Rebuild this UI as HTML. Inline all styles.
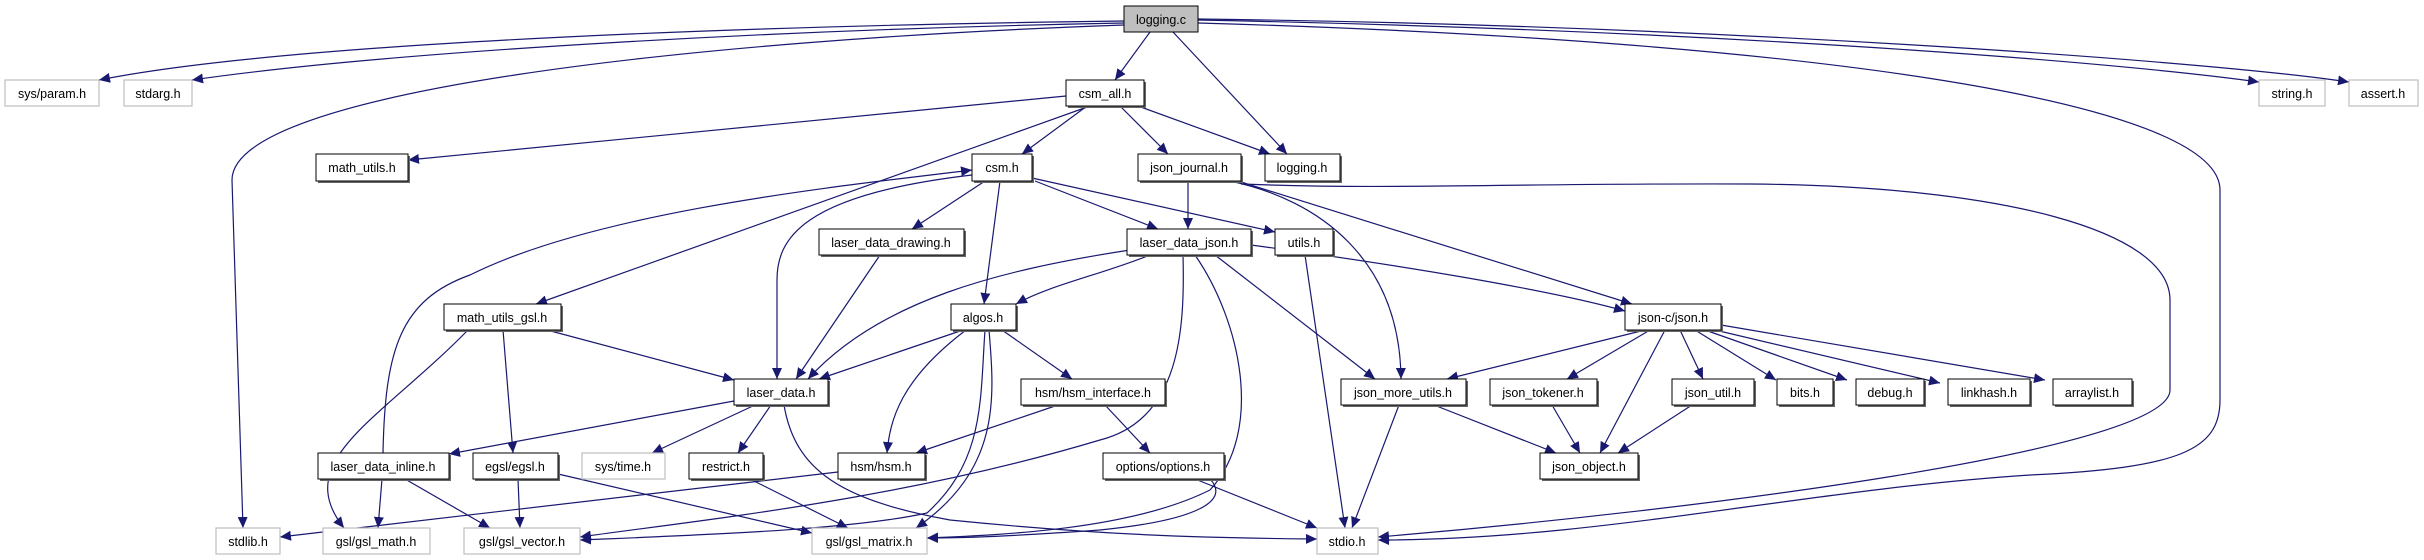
<!DOCTYPE html>
<html><head><meta charset="utf-8"><style>
html,body{margin:0;padding:0;background:#fff;}
svg{display:block;}
text{font-family:"Liberation Sans",sans-serif;font-size:12.5px;fill:#000;}
.e{fill:none;stroke:#191970;stroke-width:1.2;marker-end:url(#a);}
.n{fill:#fff;stroke:#000;stroke-width:1;}
.s{fill:#666;}
.g{fill:#fff;stroke:#bfbfbf;stroke-width:1.2;}
</style></head><body>
<svg width="2424" height="560" viewBox="0 0 2424 560" xmlns="http://www.w3.org/2000/svg">
<defs><marker id="a" markerUnits="userSpaceOnUse" markerWidth="12" markerHeight="10" refX="11" refY="5" orient="auto"><path d="M0,0 L11,5 L0,10 z" fill="#191970"/></marker></defs>

<!-- edges -->
<path class="e" d="M1124,21 C800,25 300,40 99,80"/>
<path class="e" d="M1124,23 C800,29 400,50 192,80"/>
<path class="e" d="M1124,25 C700,40 232,90 232,180 L243,528"/>
<path class="e" d="M1150,32 L1115,80"/>
<path class="e" d="M1173,32 L1287,154"/>
<path class="e" d="M1198,20 C1700,30 2100,60 2259,82"/>
<path class="e" d="M1198,19 C1700,25 2200,60 2349,82"/>
<path class="e" d="M1198,23 C1800,40 2220,100 2220,190 L2220,400 C2220,450 2180,468 2030,475 C1800,490 1600,540 1378,540"/>

<path class="e" d="M1066,96 L408,160"/>
<path class="e" d="M1090,106 L536,304"/>
<path class="e" d="M1087,106 L1022,154"/>
<path class="e" d="M1120,106 L1168,154"/>
<path class="e" d="M1138,106 L1270,154"/>

<path class="e" d="M985,181 L912,229"/>
<path class="e" d="M1035,181 L1158,229"/>
<path class="e" d="M1032,178 L1275,232"/>
<path class="e" d="M1000,181 L984,304"/>
<path class="e" d="M972,175 C800,195 777,240 777,280 L777,379"/>
<path class="e" d="M383,453 C385,350 400,300 470,275 C600,210 850,185 972,170"/>

<path class="e" d="M1188,181 L1188,229"/>
<path class="e" d="M1230,181 C1320,200 1400,260 1401,379"/>
<path class="e" d="M1241,182 L1632,304"/>
<path class="e" d="M1241,184 C1400,190 1500,183 1750,184 C2000,186 2170,230 2170,300 L2170,390 C2170,450 1700,510 1378,537"/>

<path class="e" d="M880,255 L796,379"/>

<path class="e" d="M1150,255 C1100,275 1050,285 1016,304"/>
<path class="e" d="M1130,250 C1000,270 880,300 808,379"/>
<path class="e" d="M1251,245 C1400,265 1550,290 1625,311"/>
<path class="e" d="M1215,255 L1375,379"/>
<path class="e" d="M1183,255 C1185,330 1180,420 1100,440 C900,500 700,520 580,537"/>
<path class="e" d="M1195,255 C1240,320 1265,430 1210,490 C1130,530 1000,535 927,538"/>
<path class="e" d="M1305,255 L1345,528"/>

<path class="e" d="M547,330 L734,380"/>
<path class="e" d="M503,330 L513,453"/>
<path class="e" d="M468,330 C380,420 290,460 344,528"/>

<path class="e" d="M963,330 L819,379"/>
<path class="e" d="M1002,330 L1072,379"/>
<path class="e" d="M966,330 C900,380 890,420 887,453"/>
<path class="e" d="M985,330 C980,400 985,460 927,513 C850,530 700,535 580,540"/>
<path class="e" d="M989,330 C995,400 1000,470 916,528"/>

<path class="e" d="M734,401 L449,454"/>
<path class="e" d="M755,405 L652,453"/>
<path class="e" d="M771,405 L738,453"/>
<path class="e" d="M784,405 C795,470 840,500 950,520 C1100,535 1200,538 1317,539"/>

<path class="e" d="M1058,405 L916,453"/>
<path class="e" d="M1105,405 L1150,453"/>

<path class="e" d="M382,479 L378,528"/>
<path class="e" d="M405,479 L490,528"/>
<path class="e" d="M518,479 L520,528"/>
<path class="e" d="M558,474 L812,533"/>
<path class="e" d="M750,479 L848,528"/>
<path class="e" d="M838,472 L280,537"/>
<path class="e" d="M1195,479 L1317,528"/>
<path class="e" d="M1210,479 C1230,500 1200,520 1100,530 C1000,537 960,538 927,538"/>

<path class="e" d="M1645,330 L1447,379"/>
<path class="e" d="M1650,330 L1567,379"/>
<path class="e" d="M1665,330 L1600,453"/>
<path class="e" d="M1680,330 L1703,379"/>
<path class="e" d="M1695,330 L1776,380"/>
<path class="e" d="M1705,330 L1847,380"/>
<path class="e" d="M1715,330 L1940,383"/>
<path class="e" d="M1721,325 L2045,380"/>
<path class="e" d="M1434,405 L1556,453"/>
<path class="e" d="M1399,405 L1352,528"/>
<path class="e" d="M1552,405 L1580,453"/>
<path class="e" d="M1692,405 L1618,453"/>

<!-- nodes: logging.c -->
<rect x="1124" y="6" width="74" height="26" fill="#bfbfbf" stroke="#000"/>
<text x="1161" y="24" text-anchor="middle">logging.c</text>

<!-- gray nodes -->
<g>
<rect class="g" x="5" y="80" width="94" height="26"/><text x="52" y="98" text-anchor="middle">sys/param.h</text>
<rect class="g" x="124" y="80" width="68" height="26"/><text x="158" y="98" text-anchor="middle">stdarg.h</text>
<rect class="g" x="2259" y="80" width="66" height="26"/><text x="2292" y="98" text-anchor="middle">string.h</text>
<rect class="g" x="2349" y="80" width="69" height="26"/><text x="2383" y="98" text-anchor="middle">assert.h</text>
<rect class="g" x="582" y="453" width="83" height="26"/><text x="623" y="471" text-anchor="middle">sys/time.h</text>
<rect class="g" x="216" y="528" width="64" height="26"/><text x="248" y="546" text-anchor="middle">stdlib.h</text>
<rect class="g" x="323" y="528" width="107" height="26"/><text x="376" y="546" text-anchor="middle">gsl/gsl_math.h</text>
<rect class="g" x="464" y="528" width="116" height="26"/><text x="522" y="546" text-anchor="middle">gsl/gsl_vector.h</text>
<rect class="g" x="812" y="528" width="115" height="26"/><text x="869" y="546" text-anchor="middle">gsl/gsl_matrix.h</text>
<rect class="g" x="1317" y="528" width="61" height="26"/><text x="1347" y="546" text-anchor="middle">stdio.h</text>
</g>

<!-- black nodes -->
<g>
<rect class="s" x="1068" y="82" width="78" height="26"/><rect class="n" x="1066" y="80" width="78" height="26"/><text x="1105" y="98" text-anchor="middle">csm_all.h</text>
<rect class="s" x="318" y="156" width="92" height="27"/><rect class="n" x="316" y="154" width="92" height="27"/><text x="362" y="172" text-anchor="middle">math_utils.h</text>
<rect class="s" x="974" y="156" width="60" height="27"/><rect class="n" x="972" y="154" width="60" height="27"/><text x="1002" y="172" text-anchor="middle">csm.h</text>
<rect class="s" x="1140" y="156" width="103" height="27"/><rect class="n" x="1138" y="154" width="103" height="27"/><text x="1189" y="172" text-anchor="middle">json_journal.h</text>
<rect class="s" x="1267" y="156" width="75" height="27"/><rect class="n" x="1265" y="154" width="75" height="27"/><text x="1302" y="172" text-anchor="middle">logging.h</text>
<rect class="s" x="821" y="231" width="145" height="26"/><rect class="n" x="819" y="229" width="145" height="26"/><text x="891" y="247" text-anchor="middle">laser_data_drawing.h</text>
<rect class="s" x="1129" y="231" width="124" height="26"/><rect class="n" x="1127" y="229" width="124" height="26"/><text x="1189" y="247" text-anchor="middle">laser_data_json.h</text>
<rect class="s" x="1277" y="231" width="58" height="26"/><rect class="n" x="1275" y="229" width="58" height="26"/><text x="1304" y="247" text-anchor="middle">utils.h</text>
<rect class="s" x="446" y="306" width="117" height="26"/><rect class="n" x="444" y="304" width="117" height="26"/><text x="502" y="322" text-anchor="middle">math_utils_gsl.h</text>
<rect class="s" x="953" y="306" width="65" height="26"/><rect class="n" x="951" y="304" width="65" height="26"/><text x="983" y="322" text-anchor="middle">algos.h</text>
<rect class="s" x="1627" y="306" width="96" height="26"/><rect class="n" x="1625" y="304" width="96" height="26"/><text x="1673" y="322" text-anchor="middle">json-c/json.h</text>
<rect class="s" x="736" y="381" width="94" height="26"/><rect class="n" x="734" y="379" width="94" height="26"/><text x="781" y="397" text-anchor="middle">laser_data.h</text>
<rect class="s" x="1023" y="381" width="144" height="26"/><rect class="n" x="1021" y="379" width="144" height="26"/><text x="1093" y="397" text-anchor="middle">hsm/hsm_interface.h</text>
<rect class="s" x="1343" y="381" width="125" height="26"/><rect class="n" x="1341" y="379" width="125" height="26"/><text x="1403" y="397" text-anchor="middle">json_more_utils.h</text>
<rect class="s" x="1492" y="381" width="107" height="26"/><rect class="n" x="1490" y="379" width="107" height="26"/><text x="1543" y="397" text-anchor="middle">json_tokener.h</text>
<rect class="s" x="1674" y="381" width="82" height="26"/><rect class="n" x="1672" y="379" width="82" height="26"/><text x="1713" y="397" text-anchor="middle">json_util.h</text>
<rect class="s" x="1779" y="381" width="56" height="26"/><rect class="n" x="1777" y="379" width="56" height="26"/><text x="1805" y="397" text-anchor="middle">bits.h</text>
<rect class="s" x="1858" y="381" width="68" height="26"/><rect class="n" x="1856" y="379" width="68" height="26"/><text x="1890" y="397" text-anchor="middle">debug.h</text>
<rect class="s" x="1950" y="381" width="82" height="26"/><rect class="n" x="1948" y="379" width="82" height="26"/><text x="1989" y="397" text-anchor="middle">linkhash.h</text>
<rect class="s" x="2055" y="381" width="79" height="26"/><rect class="n" x="2053" y="379" width="79" height="26"/><text x="2092" y="397" text-anchor="middle">arraylist.h</text>
<rect class="s" x="320" y="455" width="131" height="26"/><rect class="n" x="318" y="453" width="131" height="26"/><text x="383" y="471" text-anchor="middle">laser_data_inline.h</text>
<rect class="s" x="475" y="455" width="85" height="26"/><rect class="n" x="473" y="453" width="85" height="26"/><text x="515" y="471" text-anchor="middle">egsl/egsl.h</text>
<rect class="s" x="691" y="455" width="74" height="26"/><rect class="n" x="689" y="453" width="74" height="26"/><text x="726" y="471" text-anchor="middle">restrict.h</text>
<rect class="s" x="840" y="455" width="87" height="26"/><rect class="n" x="838" y="453" width="87" height="26"/><text x="881" y="471" text-anchor="middle">hsm/hsm.h</text>
<rect class="s" x="1105" y="455" width="121" height="26"/><rect class="n" x="1103" y="453" width="121" height="26"/><text x="1163" y="471" text-anchor="middle">options/options.h</text>
<rect class="s" x="1542" y="455" width="98" height="26"/><rect class="n" x="1540" y="453" width="98" height="26"/><text x="1589" y="471" text-anchor="middle">json_object.h</text>
</g>
</svg>
</body></html>
